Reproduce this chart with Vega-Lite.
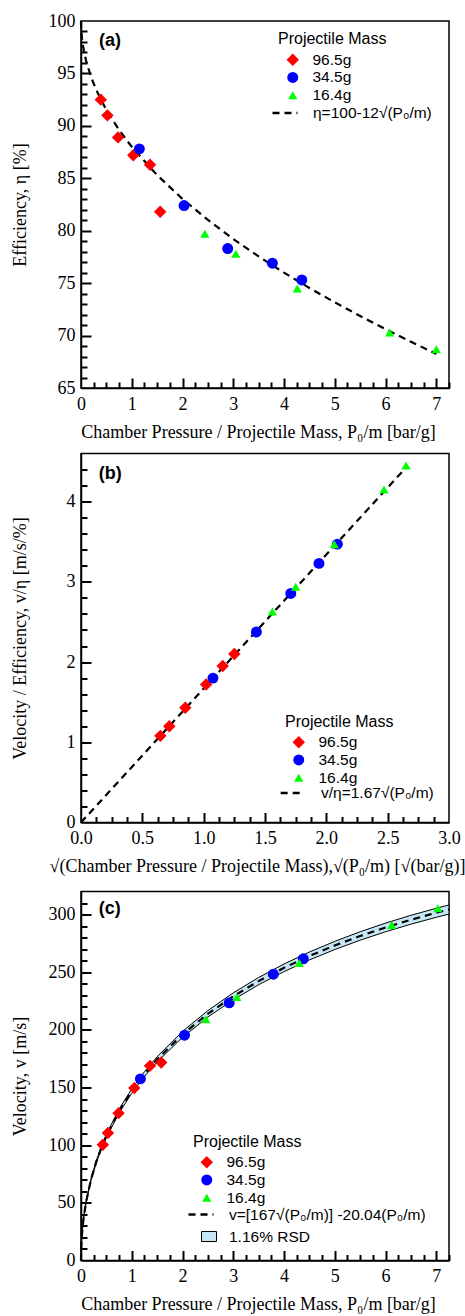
{
  "$schema": "https://vega.github.io/schema/vega-lite/v6.json",
  "background": "white",
  "padding": {"left": 10, "top": 11, "right": 0, "bottom": 0},
  "spacing": 10.5,
  "config": {
    "view": {"stroke": "black", "strokeWidth": 1.5},
    "axis": {"labelFont": "Liberation Serif", "labelFontSize": 18, "titleFont": "Liberation Serif", "titleFontSize": 18, "titleFontWeight": "normal", "labelColor": "black", "titleColor": "black", "domainColor": "black", "domainWidth": 1.5, "tickColor": "black", "tickWidth": 2, "grid": false, "labelFlush": false},
    "legend": {"labelFont": "Liberation Sans", "labelFontSize": 15.5, "titleFont": "Liberation Sans", "titleFontSize": 16, "titleFontWeight": "normal", "labelColor": "black", "titleColor": "black", "padding": 0, "labelLimit": 300}
  },
  "resolve": {
    "scale": {"color": "independent", "shape": "independent", "size": "independent", "strokeDash": "independent", "fill": "independent"},
    "legend": {"color": "independent", "shape": "independent", "strokeDash": "independent", "fill": "independent", "size": "independent"}
  },
  "vconcat": [
    {
      "width": 368, "height": 367,
      "resolve": {"axis": {"x": "independent", "y": "independent"}},
      "layer": [
        {
          "data": {"values": [
            {"x": 0, "y": 100}, {"x": 0.003, "y": 99.34}, {"x": 0.01, "y": 98.8}, {"x": 0.02, "y": 98.3}, {"x": 0.05, "y": 97.32},
            {"x": 0.1, "y": 96.21}, {"x": 0.2, "y": 94.63}, {"x": 0.3, "y": 93.43}, {"x": 0.5, "y": 91.51}, {"x": 0.75, "y": 89.61},
            {"x": 1, "y": 88}, {"x": 1.5, "y": 85.3}, {"x": 2, "y": 83.03}, {"x": 2.5, "y": 81.03}, {"x": 3, "y": 79.21},
            {"x": 3.5, "y": 77.55}, {"x": 4, "y": 76}, {"x": 4.5, "y": 74.54}, {"x": 5, "y": 73.17}, {"x": 5.5, "y": 71.86},
            {"x": 6, "y": 70.61}, {"x": 6.5, "y": 69.41}, {"x": 7, "y": 68.25}
          ]},
          "mark": {"type": "line", "color": "black", "strokeWidth": 2.2},
          "encoding": {
            "x": {"field": "x", "type": "quantitative", "scale": {"domain": [0, 7.25], "nice": false, "zero": false},
              "axis": {"orient": "bottom", "title": "Chamber Pressure / Projectile Mass, P₀/m [bar/g]", "titleX": 177, "titlePadding": 10,
                "values": [0, 1, 2, 3, 4, 5, 6, 7], "format": ".0f", "ticks": false, "labelPadding": 7}},
            "y": {"field": "y", "type": "quantitative", "scale": {"domain": [65, 100], "nice": false, "zero": false},
              "axis": {"orient": "left", "title": "Efficiency, η [%]", "titleX": -52,
                "values": [65, 70, 75, 80, 85, 90, 95, 100], "format": ".0f", "ticks": false, "labelPadding": 6}},
            "strokeDash": {"datum": "η=100-12√(P₀/m)", "type": "nominal", "scale": {"range": [[7, 5]]},
              "legend": {"title": null, "orient": "none", "legendX": 190, "legendY": 78, "symbolSize": 625, "symbolStrokeWidth": 2.5, "symbolStrokeColor": "black", "labelOffset": 14}}
          }
        },
        {
          "data": {"values": [
            {"mass": "96.5g", "x": 0.39, "y": 92.5}, {"mass": "96.5g", "x": 0.52, "y": 91.0}, {"mass": "96.5g", "x": 0.73, "y": 88.9},
            {"mass": "96.5g", "x": 1.03, "y": 87.2}, {"mass": "96.5g", "x": 1.36, "y": 86.3}, {"mass": "96.5g", "x": 1.56, "y": 81.8},
            {"mass": "34.5g", "x": 1.15, "y": 87.8}, {"mass": "34.5g", "x": 2.03, "y": 82.4}, {"mass": "34.5g", "x": 2.89, "y": 78.3},
            {"mass": "34.5g", "x": 3.77, "y": 76.9}, {"mass": "34.5g", "x": 4.35, "y": 75.3},
            {"mass": "16.4g", "x": 2.44, "y": 79.7}, {"mass": "16.4g", "x": 3.05, "y": 77.8}, {"mass": "16.4g", "x": 4.26, "y": 74.5},
            {"mass": "16.4g", "x": 6.08, "y": 70.3}, {"mass": "16.4g", "x": 7.0, "y": 68.7}
          ]},
          "mark": {"type": "point", "filled": true, "opacity": 1, "strokeWidth": 0},
          "encoding": {
            "x": {"field": "x", "type": "quantitative", "scale": {"domain": [0, 7.25], "nice": false, "zero": false},
              "axis": {"orient": "bottom", "title": null, "labels": false, "domain": false, "ticks": true, "tickColor": "black", "tickWidth": 2, "offset": -10, "tickSize": 10, "values": [1, 2, 3, 4, 5, 6, 7]}},
            "y": {"field": "y", "type": "quantitative", "scale": {"domain": [65, 100], "nice": false, "zero": false},
              "axis": {"orient": "left", "title": null, "labels": false, "domain": false, "ticks": true, "tickColor": "black", "tickWidth": 2, "offset": -10, "tickSize": 10, "values": [70, 75, 80, 85, 90, 95]}},
            "color": {"field": "mass", "type": "nominal", "scale": {"domain": ["96.5g", "34.5g", "16.4g"], "range": ["#ff0000", "#0000ff", "#00ff00"]},
              "legend": {"title": "Projectile Mass", "orient": "none", "legendX": 197, "legendY": 10, "symbolOffset": 7, "symbolSize": 190, "labelOffset": 12, "rowPadding": 0.7, "titlePadding": 5}},
            "shape": {"field": "mass", "type": "nominal", "scale": {"domain": ["96.5g", "34.5g", "16.4g"], "range": ["diamond", "circle", "triangle-up"]}},
            "size": {"field": "mass", "type": "ordinal", "scale": {"domain": ["96.5g", "34.5g", "16.4g"], "range": [155, 85, 125]}, "legend": null}
          }
        },
        {
          "data": {"values": [{"x": 0.354, "y": 98.1, "t": "(a)"}]},
          "mark": {"type": "text", "align": "left", "baseline": "middle", "font": "Liberation Sans", "fontWeight": "bold", "fontSize": 18, "color": "black"},
          "encoding": {
            "x": {"field": "x", "type": "quantitative", "scale": {"domain": [0, 7.25], "nice": false, "zero": false},
              "axis": {"orient": "bottom", "title": null, "labels": false, "domain": false, "ticks": true, "tickColor": "black", "tickWidth": 2, "offset": -6, "tickSize": 6,
                "values": [0.25,0.5,0.75,1.25,1.5,1.75,2.25,2.5,2.75,3.25,3.5,3.75,4.25,4.5,4.75,5.25,5.5,5.75,6.25,6.5,6.75,7.25]}},
            "y": {"field": "y", "type": "quantitative", "scale": {"domain": [65, 100], "nice": false, "zero": false},
              "axis": {"orient": "left", "title": null, "labels": false, "domain": false, "ticks": true, "tickColor": "black", "tickWidth": 2, "offset": -6, "tickSize": 6,
                "values": [66,67,68,69,71,72,73,74,76,77,78,79,81,82,83,84,86,87,88,89,91,92,93,94,96,97,98,99]}},
            "text": {"field": "t"}
          }
        }
      ]
    },
    {
      "spacing": 14,
      "resolve": {
        "scale": {"color": "independent", "shape": "independent", "size": "independent", "strokeDash": "independent", "fill": "independent"},
        "legend": {"color": "independent", "shape": "independent", "strokeDash": "independent", "fill": "independent", "size": "independent"}
      },
      "vconcat": [
        {
          "width": 368, "height": 369,
          "resolve": {"axis": {"x": "independent", "y": "independent"}},
          "layer": [
            {
              "data": {"values": [{"x": 0, "y": 0}, {"x": 2.62, "y": 4.375}]},
              "mark": {"type": "line", "color": "black", "strokeWidth": 2.2},
              "encoding": {
                "x": {"field": "x", "type": "quantitative", "scale": {"domain": [0, 3], "nice": false, "zero": false},
                  "axis": {"orient": "bottom", "title": "√(Chamber Pressure / Projectile Mass),√(P₀/m) [√(bar/g)]", "titleX": 176, "titlePadding": 10,
                    "values": [0, 0.5, 1, 1.5, 2, 2.5, 3], "format": ".1f", "ticks": false, "labelPadding": 7}},
                "y": {"field": "y", "type": "quantitative", "scale": {"domain": [0, 4.6], "nice": false, "zero": false},
                  "axis": {"orient": "left", "title": "Velocity / Efficiency, v/η [m/s/%]", "titleX": -52,
                    "values": [0, 1, 2, 3, 4], "format": ".0f", "ticks": false, "labelPadding": 6}},
                "strokeDash": {"datum": "v/η=1.67√(P₀/m)", "type": "nominal", "scale": {"range": [[7, 5]]},
                  "legend": {"title": null, "orient": "none", "legendX": 198, "legendY": 326, "symbolSize": 560, "symbolStrokeWidth": 2.5, "symbolStrokeColor": "black", "labelOffset": 15}}
              }
            },
            {
              "data": {"values": [
                {"mass": "96.5g", "x": 0.647, "y": 1.08}, {"mass": "96.5g", "x": 0.72, "y": 1.2}, {"mass": "96.5g", "x": 0.85, "y": 1.43},
                {"mass": "96.5g", "x": 1.02, "y": 1.72}, {"mass": "96.5g", "x": 1.155, "y": 1.95}, {"mass": "96.5g", "x": 1.25, "y": 2.1},
                {"mass": "34.5g", "x": 1.076, "y": 1.8}, {"mass": "34.5g", "x": 1.43, "y": 2.375}, {"mass": "34.5g", "x": 1.71, "y": 2.855},
                {"mass": "34.5g", "x": 1.94, "y": 3.23}, {"mass": "34.5g", "x": 2.09, "y": 3.47},
                {"mass": "16.4g", "x": 1.56, "y": 2.63}, {"mass": "16.4g", "x": 1.75, "y": 2.94}, {"mass": "16.4g", "x": 2.065, "y": 3.47},
                {"mass": "16.4g", "x": 2.47, "y": 4.15}, {"mass": "16.4g", "x": 2.65, "y": 4.45}
              ]},
              "mark": {"type": "point", "filled": true, "opacity": 1, "strokeWidth": 0},
              "encoding": {
                "x": {"field": "x", "type": "quantitative", "scale": {"domain": [0, 3], "nice": false, "zero": false},
                  "axis": {"orient": "bottom", "title": null, "labels": false, "domain": false, "ticks": true, "tickColor": "black", "tickWidth": 2, "offset": -10, "tickSize": 10, "values": [0.5, 1, 1.5, 2, 2.5]}},
                "y": {"field": "y", "type": "quantitative", "scale": {"domain": [0, 4.6], "nice": false, "zero": false},
                  "axis": {"orient": "left", "title": null, "labels": false, "domain": false, "ticks": true, "tickColor": "black", "tickWidth": 2, "offset": -10, "tickSize": 10, "values": [1, 2, 3, 4]}},
                "color": {"field": "mass", "type": "nominal", "scale": {"domain": ["96.5g", "34.5g", "16.4g"], "range": ["#ff0000", "#0000ff", "#00ff00"]},
                  "legend": {"title": "Projectile Mass", "orient": "none", "legendX": 204, "legendY": 260, "symbolOffset": 6, "symbolSize": 190, "labelOffset": 12, "rowPadding": 0.7, "titlePadding": 5}},
                "shape": {"field": "mass", "type": "nominal", "scale": {"domain": ["96.5g", "34.5g", "16.4g"], "range": ["diamond", "circle", "triangle-up"]}},
                "size": {"field": "mass", "type": "ordinal", "scale": {"domain": ["96.5g", "34.5g", "16.4g"], "range": [155, 85, 125]}, "legend": null}
              }
            },
            {
              "data": {"values": [{"x": 0.144, "y": 4.35, "t": "(b)"}]},
              "mark": {"type": "text", "align": "left", "baseline": "middle", "font": "Liberation Sans", "fontWeight": "bold", "fontSize": 18, "color": "black"},
              "encoding": {
                "x": {"field": "x", "type": "quantitative", "scale": {"domain": [0, 3], "nice": false, "zero": false},
                  "axis": {"orient": "bottom", "title": null, "labels": false, "domain": false, "ticks": true, "tickColor": "black", "tickWidth": 2, "offset": -6, "tickSize": 6,
                    "values": [0.125,0.25,0.375,0.625,0.75,0.875,1.125,1.25,1.375,1.625,1.75,1.875,2.125,2.25,2.375,2.625,2.75,2.875]}},
                "y": {"field": "y", "type": "quantitative", "scale": {"domain": [0, 4.6], "nice": false, "zero": false},
                  "axis": {"orient": "left", "title": null, "labels": false, "domain": false, "ticks": true, "tickColor": "black", "tickWidth": 2, "offset": -6, "tickSize": 6,
                    "values": [0.2,0.4,0.6,0.8,1.2,1.4,1.6,1.8,2.2,2.4,2.6,2.8,3.2,3.4,3.6,3.8,4.2,4.4]}},
                "text": {"field": "t"}
              }
            }
          ]
        },
        {
          "width": 368, "height": 369,
          "resolve": {"axis": {"x": "independent", "y": "independent"}},
          "layer": [
            {
              "data": {"values": [
                {"x": 0, "y": 0, "hi": 0}, {"x": 0.003, "y": 8.97, "hi": 9.21}, {"x": 0.005, "y": 11.56, "hi": 11.86}, {"x": 0.01, "y": 16.29, "hi": 16.71},
                {"x": 0.02, "y": 22.92, "hi": 23.52}, {"x": 0.05, "y": 35.87, "hi": 36.81}, {"x": 0.1, "y": 50.15, "hi": 51.47},
                {"x": 0.2, "y": 69.75, "hi": 71.59}, {"x": 0.3, "y": 84.35, "hi": 86.57}, {"x": 0.4, "y": 96.33, "hi": 98.87},
                {"x": 0.5, "y": 106.67, "hi": 109.47}, {"x": 0.75, "y": 127.92, "hi": 131.28}, {"x": 1, "y": 145.05, "hi": 148.87},
                {"x": 1.25, "y": 159.56, "hi": 163.76}, {"x": 1.5, "y": 172.2, "hi": 176.74}, {"x": 2, "y": 193.55, "hi": 198.65},
                {"x": 2.5, "y": 211.17, "hi": 216.73}, {"x": 3, "y": 226.15, "hi": 232.11}, {"x": 3.5, "y": 239.14, "hi": 245.44},
                {"x": 4, "y": 250.54, "hi": 257.14}, {"x": 4.5, "y": 260.65, "hi": 267.51}, {"x": 5, "y": 269.67, "hi": 276.77},
                {"x": 5.5, "y": 277.77, "hi": 285.09}, {"x": 6, "y": 285.08, "hi": 292.58}, {"x": 6.5, "y": 291.67, "hi": 299.35},
                {"x": 7, "y": 297.64, "hi": 305.48}, {"x": 7.25, "y": 300.41, "hi": 308.33}
              ]},
              "mark": {"type": "area", "stroke": "black", "strokeWidth": 1, "opacity": 1},
              "encoding": {
                "x": {"field": "x", "type": "quantitative", "scale": {"domain": [0, 7.25], "nice": false, "zero": false},
                  "axis": {"orient": "bottom", "title": "Chamber Pressure / Projectile Mass, P₀/m [bar/g]", "titleX": 177, "titlePadding": 10,
                    "values": [0, 1, 2, 3, 4, 5, 6, 7], "format": ".0f", "ticks": false, "labelPadding": 7}},
                "y": {"field": "y", "type": "quantitative", "scale": {"domain": [0, 320], "nice": false, "zero": false},
                  "axis": {"orient": "left", "title": "Velocity, v [m/s]", "titleX": -52,
                    "values": [0, 50, 100, 150, 200, 250, 300], "format": ".0f", "ticks": false, "labelPadding": 6}},
                "y2": {"field": "hi"},
                "fill": {"datum": "1.16% RSD", "type": "nominal", "scale": {"range": ["#c6e6f6"]},
                  "legend": {"title": null, "orient": "none", "legendX": 120, "legendY": 337, "symbolType": "M-1,-0.67H1V0.67H-1Z", "symbolSize": 225, "symbolStrokeColor": "black", "symbolStrokeWidth": 1, "labelOffset": 12}}
              }
            },
            {
              "data": {"values": [
                {"x": 0, "y": 0}, {"x": 0.003, "y": 9.09}, {"x": 0.005, "y": 11.71}, {"x": 0.01, "y": 16.5}, {"x": 0.02, "y": 23.22},
                {"x": 0.05, "y": 36.34}, {"x": 0.1, "y": 50.81}, {"x": 0.2, "y": 70.67}, {"x": 0.3, "y": 85.46}, {"x": 0.4, "y": 97.6},
                {"x": 0.5, "y": 108.07}, {"x": 0.75, "y": 129.6}, {"x": 1, "y": 146.96}, {"x": 1.25, "y": 161.66}, {"x": 1.5, "y": 174.47},
                {"x": 2, "y": 196.1}, {"x": 2.5, "y": 213.95}, {"x": 3, "y": 229.13}, {"x": 3.5, "y": 242.29}, {"x": 4, "y": 253.84},
                {"x": 4.5, "y": 264.08}, {"x": 5, "y": 273.22}, {"x": 5.5, "y": 281.43}, {"x": 6, "y": 288.83}, {"x": 6.5, "y": 295.51},
                {"x": 7, "y": 301.56}, {"x": 7.25, "y": 304.37}
              ]},
              "mark": {"type": "line", "color": "black", "strokeWidth": 2.2},
              "encoding": {
                "x": {"field": "x", "type": "quantitative", "scale": {"domain": [0, 7.25], "nice": false, "zero": false},
                  "axis": {"orient": "bottom", "title": null, "labels": false, "domain": false, "ticks": true, "tickColor": "black", "tickWidth": 2, "offset": -10, "tickSize": 10, "values": [1, 2, 3, 4, 5, 6, 7]}},
                "y": {"field": "y", "type": "quantitative", "scale": {"domain": [0, 320], "nice": false, "zero": false},
                  "axis": {"orient": "left", "title": null, "labels": false, "domain": false, "ticks": true, "tickColor": "black", "tickWidth": 2, "offset": -10, "tickSize": 10, "values": [50, 100, 150, 200, 250, 300]}},
                "strokeDash": {"datum": "v=[167√(P₀/m)] -20.04(P₀/m)", "type": "nominal", "scale": {"range": [[7, 5]]},
                  "legend": {"title": null, "orient": "none", "legendX": 106, "legendY": 309, "symbolSize": 625, "symbolStrokeWidth": 2.5, "symbolStrokeColor": "black", "labelOffset": 14}}
              }
            },
            {
              "data": {"values": [
                {"mass": "96.5g", "x": 0.43, "y": 100.3}, {"mass": "96.5g", "x": 0.53, "y": 110.5}, {"mass": "96.5g", "x": 0.74, "y": 127.8},
                {"mass": "96.5g", "x": 1.05, "y": 149.5}, {"mass": "96.5g", "x": 1.36, "y": 168.8}, {"mass": "96.5g", "x": 1.58, "y": 171.7},
                {"mass": "34.5g", "x": 1.17, "y": 157.5}, {"mass": "34.5g", "x": 2.04, "y": 195.4}, {"mass": "34.5g", "x": 2.92, "y": 223.4},
                {"mass": "34.5g", "x": 3.79, "y": 248.3}, {"mass": "34.5g", "x": 4.38, "y": 261.6},
                {"mass": "16.4g", "x": 2.46, "y": 209.3}, {"mass": "16.4g", "x": 3.07, "y": 228.4}, {"mass": "16.4g", "x": 4.3, "y": 258.0},
                {"mass": "16.4g", "x": 6.12, "y": 291.0}, {"mass": "16.4g", "x": 7.03, "y": 305.5}
              ]},
              "mark": {"type": "point", "filled": true, "opacity": 1, "strokeWidth": 0},
              "encoding": {
                "x": {"field": "x", "type": "quantitative", "scale": {"domain": [0, 7.25], "nice": false, "zero": false},
                  "axis": {"orient": "bottom", "title": null, "labels": false, "domain": false, "ticks": true, "tickColor": "black", "tickWidth": 2, "offset": -6, "tickSize": 6,
                    "values": [0.25,0.5,0.75,1.25,1.5,1.75,2.25,2.5,2.75,3.25,3.5,3.75,4.25,4.5,4.75,5.25,5.5,5.75,6.25,6.5,6.75,7.25]}},
                "y": {"field": "y", "type": "quantitative", "scale": {"domain": [0, 320], "nice": false, "zero": false},
                  "axis": {"orient": "left", "title": null, "labels": false, "domain": false, "ticks": true, "tickColor": "black", "tickWidth": 2, "offset": -6, "tickSize": 6,
                    "values": [10,20,30,40,60,70,80,90,110,120,130,140,160,170,180,190,210,220,230,240,260,270,280,290,310]}},
                "color": {"field": "mass", "type": "nominal", "scale": {"domain": ["96.5g", "34.5g", "16.4g"], "range": ["#ff0000", "#0000ff", "#00ff00"]},
                  "legend": {"title": "Projectile Mass", "orient": "none", "legendX": 112, "legendY": 242, "symbolOffset": 6, "symbolSize": 190, "labelOffset": 12, "rowPadding": 0.7, "titlePadding": 5}},
                "shape": {"field": "mass", "type": "nominal", "scale": {"domain": ["96.5g", "34.5g", "16.4g"], "range": ["diamond", "circle", "triangle-up"]}},
                "size": {"field": "mass", "type": "ordinal", "scale": {"domain": ["96.5g", "34.5g", "16.4g"], "range": [155, 85, 125]}, "legend": null}
              }
            },
            {
              "data": {"values": [{"x": 0.35, "y": 305, "t": "(c)"}]},
              "mark": {"type": "text", "align": "left", "baseline": "middle", "font": "Liberation Sans", "fontWeight": "bold", "fontSize": 18, "color": "black"},
              "encoding": {
                "x": {"field": "x", "type": "quantitative", "scale": {"domain": [0, 7.25], "nice": false, "zero": false}, "axis": null},
                "y": {"field": "y", "type": "quantitative", "scale": {"domain": [0, 320], "nice": false, "zero": false}, "axis": null},
                "text": {"field": "t"}
              }
            }
          ]
        }
      ]
    }
  ]
}
